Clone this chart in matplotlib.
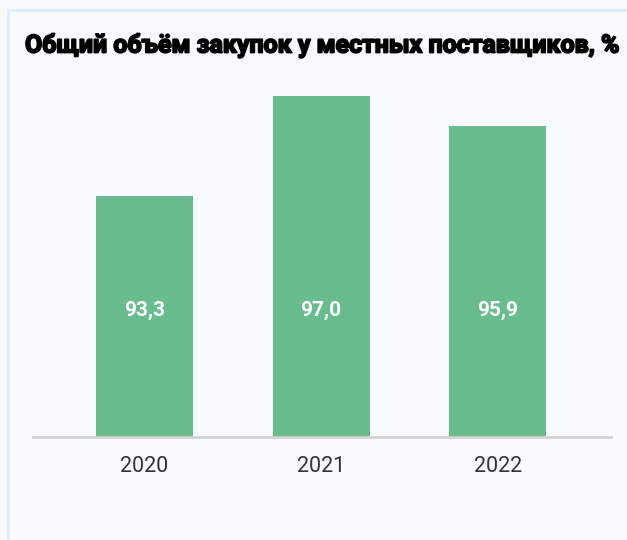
import matplotlib
matplotlib.use("Agg")
import matplotlib.pyplot as plt
import matplotlib.transforms as mtransforms
import matplotlib.patheffects as pe
from matplotlib.patches import Rectangle
import numpy as np

years = ["2020", "2021", "2022"]
values = [93.3, 97.0, 95.9]
value_labels = ["93,3", "97,0", "95,9"]
title = "Общий объём закупок у местных поставщиков, %"

BG = "#F7FBFD"
FRAME = "#DDEDFA"
BAR = "#69BC8E"
BASE = "#D2D2D2"

plt.rcParams["font.family"] = ["Roboto", "DejaVu Sans"]

fig = plt.figure(figsize=(6.27, 5.40), dpi=100, facecolor=BG)
W, H = 627, 540

# light frame (left + top edges)
fig.patches.append(Rectangle((8 / W, -0.1), 1.2, (H - 10) / H + 0.1,
                             transform=fig.transFigure, fill=False,
                             edgecolor=FRAME, linewidth=2))

ax = fig.add_axes([33 / W, (H - 437) / H, (611 - 33) / W, (437 - 80) / H])
ax.set_facecolor("none")

x = np.arange(len(years))
ax.bar(x, values, width=0.55, color=BAR, zorder=2)

ax.set_xlim(-0.63, 2.64)
ax.set_ylim(84.35, 97.59)

# value labels at a common height inside the bars
trans = mtransforms.blended_transform_factory(ax.transData, ax.transAxes)
for xi, lab in zip(x, value_labels):
    ax.text(xi, 127 / 357, lab, transform=trans, ha="center", va="center",
            color="white", fontsize=15, fontweight="bold", zorder=3)

for s in ["top", "right", "left"]:
    ax.spines[s].set_visible(False)
ax.spines["bottom"].set_color(BASE)
ax.spines["bottom"].set_linewidth(2)
ax.spines["bottom"].set_zorder(4)

ax.set_yticks([])
ax.set_xticks(x)
ax.set_xticklabels(years, fontsize=15.5, color="#333333")
ax.tick_params(axis="x", length=0, pad=14)

# heavy title: bold + thin stroke to thicken the strokes
fig.text(25 / W, (H - 45) / H, title, ha="left", va="center",
         fontsize=17.95, fontweight="bold", color="black",
         path_effects=[pe.withStroke(linewidth=1.3, foreground="black")])

fig.savefig("out.png", dpi=100, facecolor=BG)
